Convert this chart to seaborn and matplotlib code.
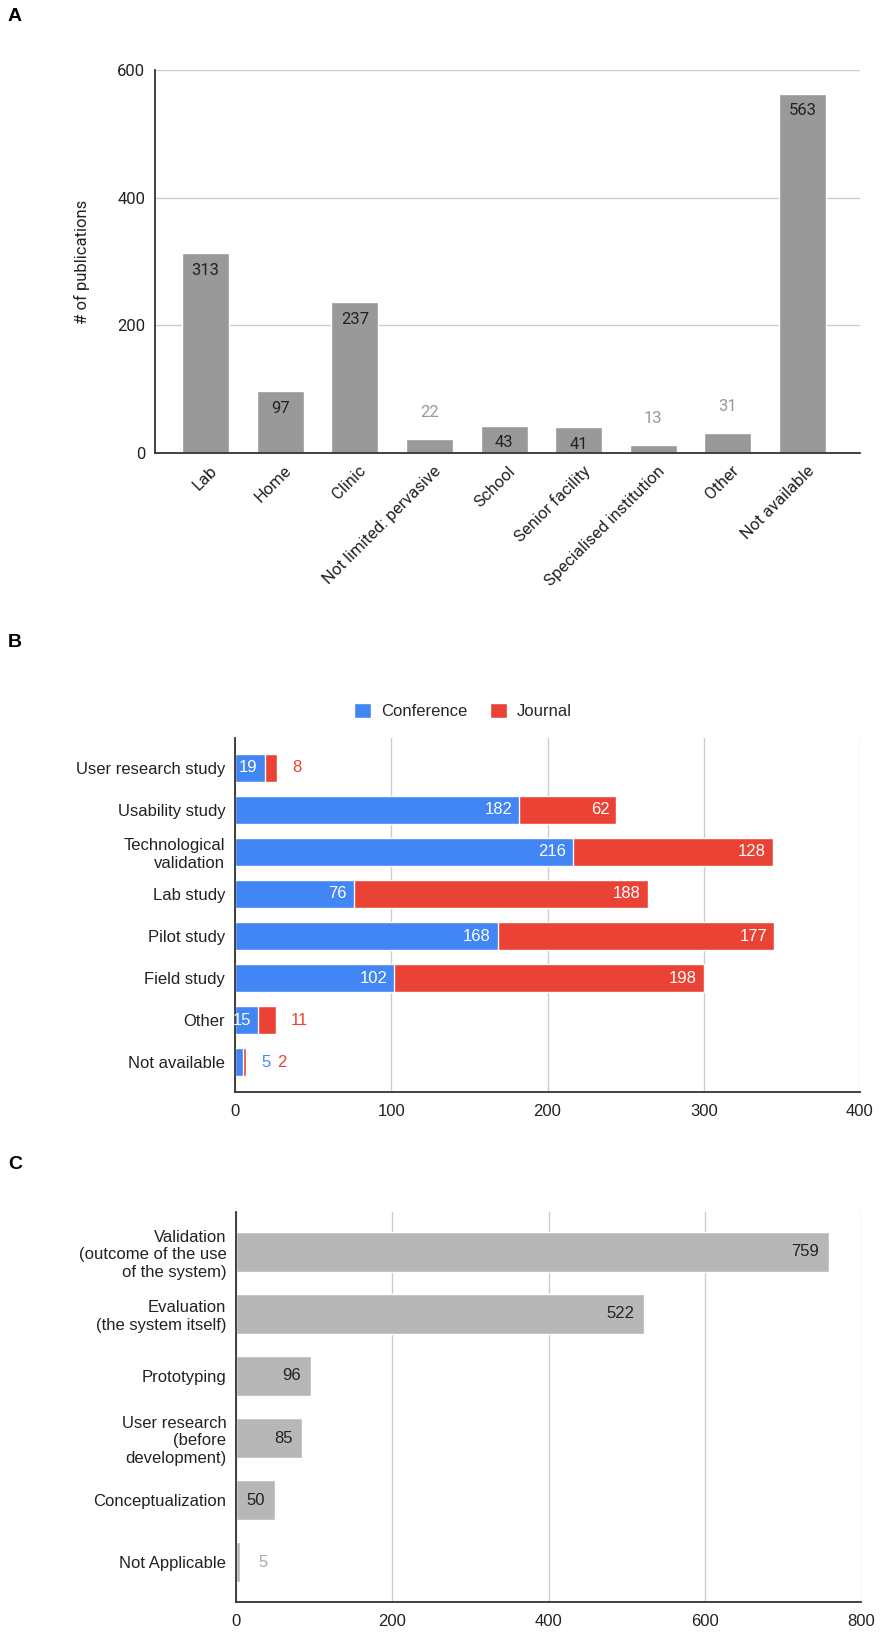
import matplotlib
matplotlib.use('Agg')
import matplotlib.pyplot as plt
import matplotlib.transforms as mtransforms
from matplotlib.patches import Patch
import seaborn as sns

# Data
settings = ['Lab', 'Home', 'Clinic', 'Not limited: pervasive', 'School',
            'Senior facility', 'Specialised institution', 'Other', 'Not available']
setting_counts = [313, 97, 237, 22, 43, 41, 13, 31, 563]

study_types = ['User research study', 'Usability study', 'Technological\nvalidation',
               'Lab study', 'Pilot study', 'Field study', 'Other', 'Not available']
conference = [19, 182, 216, 76, 168, 102, 15, 5]
journal = [8, 62, 128, 188, 177, 198, 11, 2]

stages = ['Validation\n(outcome of the use\nof the system)', 'Evaluation\n(the system itself)',
          'Prototyping', 'User research\n(before\ndevelopment)', 'Conceptualization',
          'Not Applicable']
stage_counts = [759, 522, 96, 85, 50, 5]

sns.set_theme(style='white')
plt.rcParams['font.family'] = ['Liberation Sans', 'DejaVu Sans']

BLUE = '#4285F4'
RED = '#EA4335'
GRID = '#cccccc'
SPINE = '#333333'

fig = plt.figure(figsize=(8.86, 16.37), dpi=100)
W, H = 886, 1637


def axes_px(left, top, right, bottom):
    return fig.add_axes([left / W, 1 - bottom / H, (right - left) / W, (bottom - top) / H])


def style_axes(ax):
    for s in ['top', 'right']:
        ax.spines[s].set_visible(False)
    for s in ['left', 'bottom']:
        ax.spines[s].set_color(SPINE)
        ax.spines[s].set_linewidth(1.3)
    ax.tick_params(length=0)
    ax.set_xlabel('')
    ax.set_ylabel('')


# Panel A
axA = axes_px(155, 70, 860, 453)
sns.barplot(x=settings, y=setting_counts, color='#999999', width=0.63, saturation=1, ax=axA)
style_axes(axA)
axA.set_ylim(0, 600)
axA.set_xlim(-0.68, 8.77)
axA.set_yticks([0, 200, 400, 600])
axA.yaxis.grid(True, color=GRID, linewidth=1)
axA.set_axisbelow(True)
roboto = ['Roboto', 'DejaVu Sans']
for lab in axA.get_yticklabels():
    lab.set_fontfamily(roboto)
axA.tick_params(axis='y', labelsize=12, pad=7, labelcolor='#222222')
axA.tick_params(axis='x', labelsize=12, pad=4, labelcolor='#222222')
shift = mtransforms.ScaledTranslation(9 / 100, -10 / 100, fig.dpi_scale_trans)
for lab in axA.get_xticklabels():
    lab.set_rotation(45)
    lab.set_ha('right')
    lab.set_va('center')
    lab.set_rotation_mode('anchor')
    lab.set_fontfamily(roboto)
    lab.set_transform(lab.get_transform() + shift)
axA.set_ylabel('# of publications', fontsize=12, family=roboto, color='#222222')
axA.yaxis.set_label_coords(-0.092, 0.5)
for i, v in enumerate(setting_counts):
    if v >= 40:
        axA.annotate(str(v), (i, v), xytext=(0, -12.5), textcoords='offset points',
                     ha='center', va='center', fontsize=12, color='#222222', family=roboto)
    else:
        axA.annotate(str(v), (i, v), xytext=(0, 19), textcoords='offset points',
                     ha='center', va='center', fontsize=12, color='#999999', family=roboto)

# Panel B
axB = axes_px(235, 738, 860, 1092)
totals = [c + j for c, j in zip(conference, journal)]
sns.barplot(x=totals, y=study_types, orient='y', color=RED, width=0.667, saturation=1, ax=axB)
sns.barplot(x=conference, y=study_types, orient='y', color=BLUE, width=0.667, saturation=1, ax=axB)
style_axes(axB)
axB.set_xlim(0, 400)
axB.set_ylim(7.71, -0.71)
axB.set_xticks([0, 100, 200, 300, 400])
axB.xaxis.grid(True, color=GRID, linewidth=1)
axB.set_axisbelow(True)
axB.tick_params(axis='y', labelsize=12, pad=7, labelcolor='#222222')
axB.tick_params(axis='x', labelsize=12, pad=9, labelcolor='#222222')
for i, (c, j) in enumerate(zip(conference, journal)):
    outside = []
    if c >= 14:
        axB.annotate(str(c), (c, i), xytext=(-5, 0), textcoords='offset points',
                     ha='right', va='center', fontsize=12, color='white')
    else:
        outside.append((c, BLUE))
    if j >= 14:
        axB.annotate(str(j), (c + j, i), xytext=(-5, 0), textcoords='offset points',
                     ha='right', va='center', fontsize=12, color='white')
    else:
        outside.append((j, RED))
    for k, (v, col) in enumerate(outside):
        axB.annotate(str(v), (c + j, i), xytext=(11 + 11.5 * k, 0), textcoords='offset points',
                     ha='left', va='center', fontsize=12, color=col)
handles = [Patch(facecolor=BLUE, label='Conference'), Patch(facecolor=RED, label='Journal')]
fig.legend(handles=handles, loc='center', bbox_to_anchor=(463 / W, 1 - 711 / H), ncol=2,
           frameon=False, fontsize=12, handlelength=1.0, handleheight=1.0,
           handletextpad=0.6, columnspacing=1.4)

# Panel C
axC = axes_px(236, 1212, 861, 1602)
sns.barplot(x=stage_counts, y=stages, orient='y', color='#b7b7b7', width=0.63, saturation=1, ax=axC)
style_axes(axC)
axC.set_xlim(0, 800)
axC.set_ylim(5.645, -0.645)
axC.set_xticks([0, 200, 400, 600, 800])
axC.xaxis.grid(True, color=GRID, linewidth=1)
axC.set_axisbelow(True)
axC.tick_params(axis='y', labelsize=12, pad=7, labelcolor='#222222')
axC.tick_params(axis='x', labelsize=12, pad=9, labelcolor='#222222')
for i, v in enumerate(stage_counts):
    if v >= 40:
        axC.annotate(str(v), (v, i), xytext=(-7, 0), textcoords='offset points',
                     ha='right', va='center', fontsize=12, color='#222222')
    else:
        axC.annotate(str(v), (v, i), xytext=(13, 0), textcoords='offset points',
                     ha='left', va='center', fontsize=12, color='#aaaaaa')

# Panel letters
for letter, y in [('A', 8), ('B', 634), ('C', 1156)]:
    fig.text(8 / W, 1 - y / H, letter, fontsize=14, fontweight='bold', va='top', ha='left',
             color='black')

fig.savefig('out.png', dpi=100)
